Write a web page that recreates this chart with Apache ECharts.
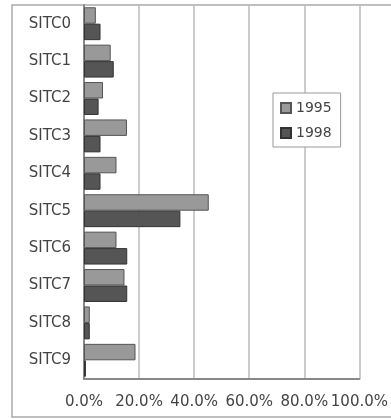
<!DOCTYPE html>
<html><head><meta charset="utf-8">
<script src="https://cdn.jsdelivr.net/npm/echarts@6/dist/echarts.min.js"></script>
<style>html,body{margin:0;padding:0;background:#fff}#c{width:391px;height:419px}</style>
</head><body><div id="c"></div>
<script>
const categories = ['SITC0','SITC1','SITC2','SITC3','SITC4','SITC5','SITC6','SITC7','SITC8','SITC9'];
const seriesNames = ['1995','1998'];
const values1995 = [4.3, 9.7, 6.9, 15.6, 11.8, 45.3, 11.8, 14.7, 2.1, 18.7];
const values1998 = [6.0, 10.8, 5.3, 6.0, 6.0, 35.0, 15.7, 15.7, 2.1, 0.7];
const xTicks = [0, 20, 40, 60, 80, 100];

const chart = echarts.init(document.getElementById('c'), null, {renderer:'canvas'});
const font = 'DejaVu Sans';
chart.setOption({
  animation: false,
  backgroundColor: '#fff',
  graphic: [{type:'rect', shape:{x:12, y:5, width:390, height:412}, style:{fill:'none', stroke:'#aaa', lineWidth:1.5}, z:-1}],
  legend: {
    data: seriesNames, orient:'vertical', left:273, top:93, icon:'rect',
    padding:[8,9,7,7], itemGap:11, itemWidth:10, itemHeight:10,
    backgroundColor:'#fff', borderColor:'#999', borderWidth:1,
    textStyle:{fontFamily:font, fontSize:14, color:'#444'}
  },
  grid: {left:84, right:29, top:5, bottom:40, containLabel:false},
  xAxis: {
    type:'value', min:xTicks[0], max:xTicks[xTicks.length-1], interval:20,
    axisLine:{show:true, lineStyle:{color:'#888', width:2}},
    axisTick:{show:false},
    splitLine:{show:true, lineStyle:{color:'#bbb', width:1.5}},
    axisLabel:{margin:16, fontFamily:font, fontSize:15, color:'#444', formatter: v => v.toFixed(1)+'%'}
  },
  yAxis: {
    type:'category', data:categories, inverse:true,
    axisLine:{show:true, lineStyle:{color:'#888', width:2}},
    axisTick:{show:false},
    axisLabel:{margin:13, fontFamily:font, fontSize:15, color:'#444'}
  },
  series: [
    {name:seriesNames[0], type:'bar', data:values1995, barGap:'0%', barCategoryGap:'12%',
     itemStyle:{color:'#999', borderColor:'#555', borderWidth:1}},
    {name:seriesNames[1], type:'bar', data:values1998, barGap:'0%', barCategoryGap:'12%',
     itemStyle:{color:'#555', borderColor:'#333', borderWidth:1}}
  ]
});
</script></body></html>
